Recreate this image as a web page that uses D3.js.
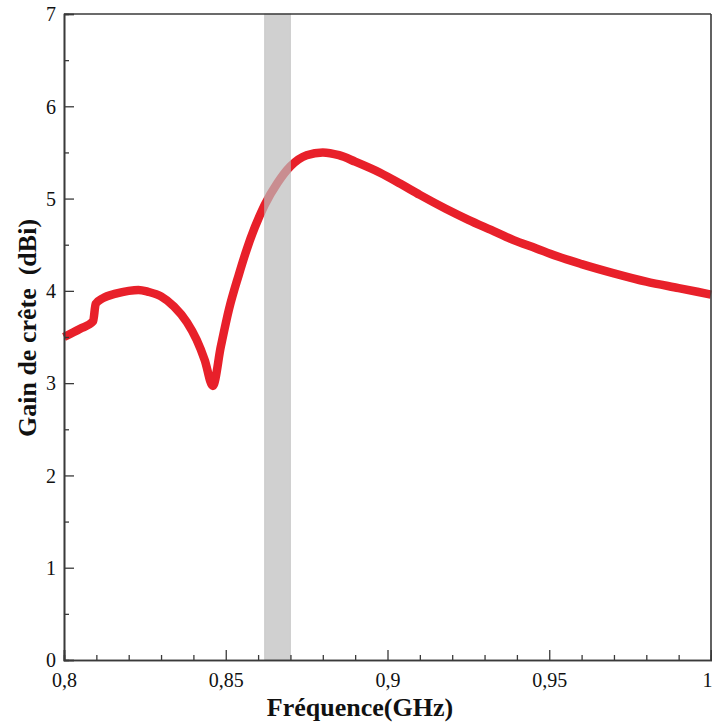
<!DOCTYPE html>
<html>
<head>
<meta charset="utf-8">
<script src="https://cdn.jsdelivr.net/npm/d3@7"></script>
<style>
  body { margin: 0; background: #fff; }
  svg { display: block; }
  text { font-family: "Liberation Serif", "Times New Roman", serif; }
</style>
</head>
<body>
<svg id="chart" width="712" height="726"></svg>
<script>
// ---- data ----
const freq = [0.800, 0.805, 0.809, 0.8098, 0.812, 0.816, 0.820, 0.823, 0.826, 0.830, 0.834, 0.838, 0.841, 0.8435, 0.846,
              0.8485, 0.851, 0.854, 0.8565, 0.859, 0.862, 0.866, 0.870, 0.875, 0.880, 0.885, 0.890, 0.8977, 0.904,
              0.910, 0.918, 0.925, 0.932, 0.939, 0.946, 0.952, 0.960, 0.970, 0.980, 0.990, 1.000];
const gain = [3.50, 3.59, 3.67, 3.86, 3.92, 3.97, 4.00, 4.01, 3.99, 3.94, 3.83, 3.66, 3.47, 3.25, 2.97,
              3.40, 3.80, 4.17, 4.45, 4.69, 4.93, 5.17, 5.35, 5.47, 5.50, 5.47, 5.40, 5.28, 5.16,
              5.04, 4.89, 4.77, 4.66, 4.55, 4.46, 4.38, 4.29, 4.19, 4.10, 4.03, 3.96];
const band = [0.862, 0.870];
const xTicks = [0.8, 0.85, 0.9, 0.95, 1.0];
const xTickLabels = ["0,8", "0,85", "0,9", "0,95", "1"];
const yTicks = [0, 1, 2, 3, 4, 5, 6, 7];
const xTitle = "Fréquence(GHz)";
const yTitle = "Gain de crête  (dBi)";

// ---- layout ----
const L = 64, R = 711, T = 14, B = 660;
const svg = d3.select("#chart");
const x = d3.scaleLinear().domain([0.8, 1.0]).range([L, R]);
const y = d3.scaleLinear().domain([0, 7]).range([B, T]);

// curve
const line = d3.line().x((d, i) => x(freq[i])).y((d, i) => y(gain[i])).curve(d3.curveMonotoneX);
svg.append("path")
  .datum(gain)
  .attr("d", line)
  .attr("fill", "none")
  .attr("stroke", "#e8202a")
  .attr("stroke-width", 8.5)
  .attr("stroke-linejoin", "round");

// band
svg.append("rect")
  .attr("x", x(band[0]))
  .attr("y", T)
  .attr("width", x(band[1]) - x(band[0]))
  .attr("height", B - T)
  .attr("fill", "#bcbcbc")
  .attr("fill-opacity", 0.7)
  .attr("stroke", "#b8b8b8")
  .attr("stroke-opacity", 0.5)
  .attr("stroke-width", 1);

// axes
const axisColor = "#3a3a3a";
const xMinor = d3.range(0.80, 1.0001, 0.01).filter(v => !xTicks.some(t => Math.abs(t - v) < 1e-6));
const yMinor = d3.range(0.5, 7, 1);

const xAxis = svg.append("g").attr("transform", `translate(0,${B})`)
  .call(d3.axisBottom(x).tickValues(xTicks).tickSize(-10).tickFormat((d, i) => xTickLabels[i]).tickPadding(13));
const xAxisMinor = svg.append("g").attr("transform", `translate(0,${B})`)
  .call(d3.axisBottom(x).tickValues(xMinor).tickSize(-5).tickFormat(""));
const yAxis = svg.append("g").attr("transform", `translate(${L},0)`)
  .call(d3.axisLeft(y).tickValues(yTicks).tickSize(-10).tickFormat(d3.format("d")).tickPadding(8));
const yAxisMinor = svg.append("g").attr("transform", `translate(${L},0)`)
  .call(d3.axisLeft(y).tickValues(yMinor).tickSize(-5).tickFormat(""));

[xAxis, xAxisMinor, yAxis, yAxisMinor].forEach(g => {
  g.select(".domain").attr("stroke", axisColor).attr("stroke-width", 1.6);
  g.selectAll(".tick line").attr("stroke", axisColor).attr("stroke-width", 1.3);
  g.selectAll(".tick text").attr("fill", "#111").style("font-size", "20px")
    .style("font-family", '"Liberation Serif", serif');
});
yAxis.selectAll(".tick text").attr("dy", "0.34em");
// keep the last label ("1") inside the picture
xAxis.selectAll(".tick text").filter((d, i) => i === xTicks.length - 1).attr("text-anchor", "end").attr("dx", "1");

// frame top & right
svg.append("line").attr("x1", L).attr("x2", R).attr("y1", T).attr("y2", T)
  .attr("stroke", axisColor).attr("stroke-width", 1.6);
svg.append("line").attr("x1", R).attr("x2", R).attr("y1", T).attr("y2", B)
  .attr("stroke", axisColor).attr("stroke-width", 1.6);

// titles
svg.append("text")
  .attr("x", 360).attr("y", 716)
  .attr("text-anchor", "middle")
  .style("font-size", "26px").style("font-weight", "bold")
  .attr("fill", "#111")
  .text(xTitle);
svg.append("text")
  .attr("transform", "translate(36,328) rotate(-90)")
  .attr("text-anchor", "middle")
  .style("font-size", "26px").style("font-weight", "bold")
  .attr("fill", "#111")
  .style("white-space", "pre")
  .text(yTitle);
</script>
</body>
</html>
